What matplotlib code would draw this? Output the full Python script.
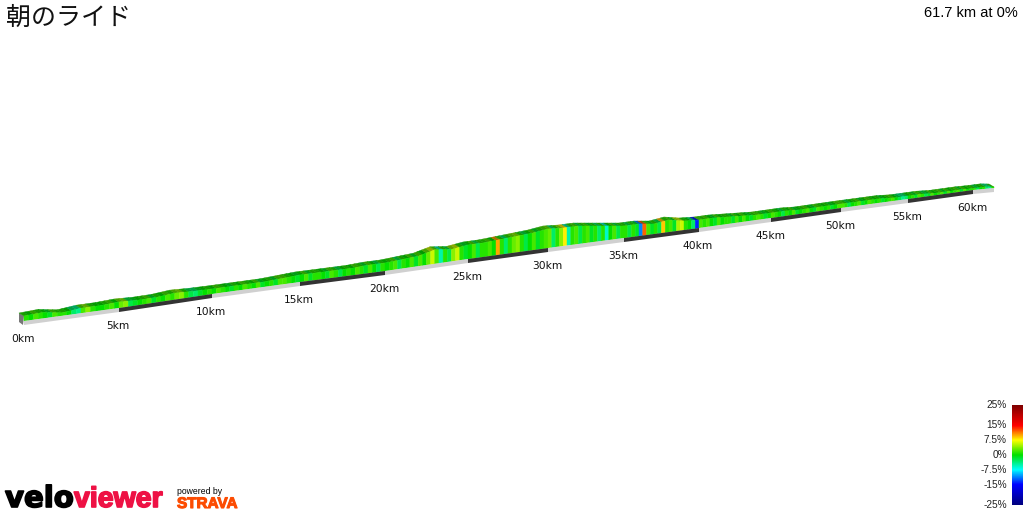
import numpy as np
import matplotlib
matplotlib.use('Agg')
import matplotlib.pyplot as plt
import matplotlib.patheffects as pe
from matplotlib.collections import PolyCollection
from matplotlib.colors import LinearSegmentedColormap

title = '朝のライド'
summary = '61.7 km at 0%'

# where each 5km mark sits on the image (the 3d view is not linear)
marker_km = [0, 5, 10, 15, 20, 25, 30, 35, 40, 45, 50, 55, 60, 61.7]
marker_x = [24, 119, 212, 300, 385, 468, 548, 624, 699, 771, 841, 908, 973, 994]
marker_y = [325, 312, 298, 286, 275, 263, 252, 242, 232, 222, 212, 203, 194, 192]

# height of the ribbon at each km
elevation_km = list(range(62)) + [61.7]
elevation = [12, 13, 10, 12, 12, 13, 12, 12, 13.5, 12.5,
             12, 12, 12, 12, 13, 14, 14, 14, 14, 15,
             15, 16, 17, 21, 19, 21, 21, 22, 23, 24,
             26, 25, 25, 23, 21, 19, 19, 17, 19, 16,
             15, 15, 14, 13, 12, 12, 12, 11, 11, 11,
             11, 11, 11, 11, 10, 10, 10, 9, 9, 9,
             8.5, 9, 8]

# gradient in % for every 250m, one line is 4km
gradient = [
    1, 0, 2, 1,      0, -1, 2, 1,      1, 0, -3, -4,     2, 4, 1, 0,
    0, 1, 2, 0,      3, 4, -2, -1,     0, 1, 2, -1,      1, 0, 2, 1,
    3, 4, 1, -2,     -3, -1, 0, 1,     0, 2, 1, 0,       -1, 1, 0, 2,
    1, 0, 2, -1,     0, 1, -1, 2,      2, 1, 0, -1,      0, 2, -1, 1,
    1, 0, -1, 2,     1, -2, 0, 1,      0, 2, 1, -1,      2, 0, -2, 1,
    0, 1, 2, -2,     1, 0, 2, -1,      2, 0, 3, 6,       2, -5, 1, -2,
    4, 6, 1, -1,     0, 2, -2, 1,      1, 2, 0, 10,      1, -3, 1, 3,
    4, 1, -2, 0,     2, -1, 1, 2,      3, -3, 1, 4,      8, -5, 1, 2,
    -2, 1, 2, -1,    1, -3, 1, -6,     0, 2, -2, 1,      1, -2, 1, -1,
    -11, 12, 2, -1,  1, -2, 9, 1,      2, -1, 5, 6,      1, 0, -3, -14,
    2, 1, 2, 0,      -1, 2, 0, 1,      1, -1, 2, 0,      2, 0, -1, 1,
    2, 1, -1, 0,     2, 1, 0, -2,      1, 0, 2, -1,      0, 1, 2, 0,
    -1, 2, 1, 0,     1, -1, 0, 2,      2, 1, -2, 0,      1, 2, -1, 0,
    2, 1, 0, 1,      -1, 0, 1, 2,      0, -2, -4, -3,    0, 1, -1, 2,
    1, -2, -1, 2,    0, 1, 2, -1,      2, 0, 1, 2,       -1, 2, 0, 1,
    1, -2, 0, 1,     -3, -4, 1,
]

bar_ticks = [25, 15, 7.5, 0, -7.5, -15, -25]
bar_labels = ['25%', '15%', '7.5%', '0%', '-7.5%', '-15%', '-25%']

depth_x, depth_y = -5, 3   # how far the back edge of the ribbon is shifted
base_h = 4                 # thickness of the km strip under the ribbon

plt.rcParams['font.family'] = ['Liberation Sans', 'DejaVu Sans']
fig = plt.figure(figsize=(10.24, 5.12), dpi=100)
ax = fig.add_axes([0, 0, 1, 1])
ax.set_xlim(0, 1024)
ax.set_ylim(512, 0)
ax.axis('off')

cmap = LinearSegmentedColormap.from_list('grade', [
    (0.0, '#000080'), (0.2, '#0000ff'), (0.35, '#00ffff'), (0.5, '#00e000'),
    (0.65, '#ffff00'), (0.8, '#ff0000'), (1.0, '#800000')])


def project(km, h=0):
    x = np.interp(km, marker_km, marker_x)
    y = np.interp(km, marker_km, marker_y) - h
    return x, y


def shade(grade, amount):
    r, g, b, _ = cmap((grade + 25) / 50)
    return (r * amount, g * amount, b * amount)


edges = np.append(np.arange(len(gradient)) * 0.25, 61.7)
top = np.interp(edges, elevation_km, elevation) - depth_y

walls, roofs, wall_colors, roof_colors = [], [], [], []
for i, grade in enumerate(gradient):
    x0, y0 = project(edges[i], base_h)
    x1, y1 = project(edges[i + 1], base_h)
    tx0, ty0 = project(edges[i], top[i])
    tx1, ty1 = project(edges[i + 1], top[i + 1])
    walls.append([(x0, y0), (x1, y1), (tx1, ty1), (tx0, ty0)])
    roofs.append([(tx0, ty0), (tx1, ty1), (tx1 + depth_x, ty1 - depth_y), (tx0 + depth_x, ty0 - depth_y)])
    wall_colors.append(shade(grade, 1.0))
    roof_colors.append(shade(grade, 0.68))

# end cap on the 0km side
cx, cy = project(0, base_h)
tx, ty = project(0, top[0])
ax.fill([cx - 1, tx, tx + depth_x, cx + depth_x], [cy + base_h, ty, ty - depth_y, cy - depth_y + base_h],
        color='#777777', lw=0, zorder=1)

ax.add_collection(PolyCollection(roofs, facecolors=roof_colors, edgecolors=roof_colors, linewidths=0.3, zorder=2))
ax.add_collection(PolyCollection(walls, facecolors=wall_colors, edgecolors=wall_colors, linewidths=0.3, zorder=3))

# alternating 5km strip along the bottom
for i in range(len(marker_km) - 1):
    x0, y0 = project(marker_km[i])
    x1, y1 = project(marker_km[i + 1])
    color = '#d0d0d0' if i % 2 == 0 else '#333333'
    ax.fill([x0, x1, x1, x0], [y0, y1, y1 - base_h, y0 - base_h], color=color, lw=0, zorder=4)

for km, x, y in zip(marker_km[:-1], marker_x, marker_y):
    ax.text(x - 1, y + 14, f'{km}km', family='DejaVu Sans', fontsize=7.7, ha='center', va='center', color='#111111')

ax.text(6, 18, title, family=['Noto Sans CJK JP', 'DejaVu Sans'], fontsize=18, ha='left', va='center', color='#111111')
ax.text(1018, 13, summary, fontsize=10.5, ha='right', va='center', color='black')

# colour bar
ramp = np.linspace(25, -25, 101).reshape(-1, 1)
ax.imshow(ramp, cmap=cmap, vmin=-25, vmax=25, extent=(1012, 1023, 505, 405), aspect='auto', zorder=2)
ax.set_xlim(0, 1024)
ax.set_ylim(512, 0)
for tick, label in zip(bar_ticks, bar_labels):
    ax.text(1007, 455 - tick * 2, label, fontsize=7.3, ha='right', va='center', color='#222222')

# logos
thick_black = [pe.withStroke(linewidth=1.2, foreground='black')]
thick_red = [pe.withStroke(linewidth=1.2, foreground='#ee1144')]
thick_orange = [pe.withStroke(linewidth=0.8, foreground='#fc4c02')]
ax.text(5, 507, 'velo', family='DejaVu Sans', fontsize=21, fontweight='bold', ha='left', va='baseline',
        color='black', path_effects=thick_black)
ax.text(74, 507, 'viewer', fontsize=20.5, fontweight='bold', ha='left', va='baseline',
        color='#ee1144', path_effects=thick_red)
ax.text(177, 492, 'powered by', fontsize=6.2, ha='left', va='center', color='black')
ax.text(177, 504, 'STRAVA', fontsize=11, fontweight='bold', ha='left', va='center',
        color='#fc4c02', path_effects=thick_orange)

fig.savefig('out.png', dpi=100)
